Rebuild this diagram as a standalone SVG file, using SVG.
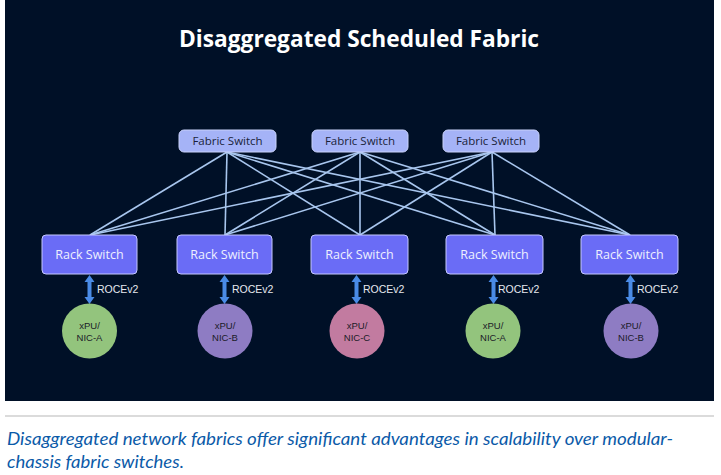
<svg xmlns="http://www.w3.org/2000/svg" width="721" height="475" viewBox="0 0 721 475">
<defs>
<style>
.fab rect{fill:#a5b3f7;stroke:#c9d2fb;stroke-width:1}
.fab text{font-family:"Open Sans","Liberation Sans",sans-serif;font-size:11.5px;fill:#1a1f3a;text-anchor:middle}
.rack rect{fill:#6a6cf6;stroke:#c5c8ff;stroke-width:1}
.rack text{font-family:"Open Sans","Liberation Sans",sans-serif;font-size:12.5px;fill:#eef0ff;text-anchor:middle}
.nic text{font-family:"Liberation Sans","Open Sans",sans-serif;font-size:9.5px;fill:#1b1b28;text-anchor:middle}
.lbl{font-family:"Liberation Sans","Open Sans",sans-serif;font-size:10.5px;fill:#e6e8ef}
#connectors line.l{stroke:#a8c6ee;stroke-width:1.6}
.arr{fill:#4a8be6}
</style>
<path id="barrow" d="M0,0 L5,7 L2,7 L2,22 L5,22 L0,29 L-5,22 L-2,22 L-2,7 L-5,7 z"/>
</defs>
<rect x="5" y="0" width="709" height="401" fill="#001027"/>
<line x1="5" y1="416" x2="714" y2="416" stroke="#cfcfcf" stroke-width="1.5"/>
<text x="359" y="47" font-family="Open Sans, Liberation Sans, sans-serif" font-size="23" font-weight="bold" fill="#ffffff" text-anchor="middle" textLength="360" lengthAdjust="spacingAndGlyphs">Disaggregated Scheduled Fabric</text>
<g font-family="Lato, Open Sans, Liberation Sans, sans-serif" font-size="17" font-style="italic" fill="#0b5aa8">
<text x="7" y="445" textLength="666" lengthAdjust="spacingAndGlyphs">Disaggregated network fabrics offer significant advantages in scalability over modular-</text>
<text x="7" y="468" textLength="177" lengthAdjust="spacingAndGlyphs">chassis fabric switches.</text>
</g>
<g id="connectors">
<line class="l" x1="227" y1="152" x2="90" y2="235"/>
<line class="l" x1="227" y1="152" x2="225" y2="235"/>
<line class="l" x1="227" y1="152" x2="360" y2="235"/>
<line class="l" x1="227" y1="152" x2="495" y2="235"/>
<line class="l" x1="227" y1="152" x2="630" y2="235"/>
<line class="l" x1="360" y1="152" x2="90" y2="235"/>
<line class="l" x1="360" y1="152" x2="225" y2="235"/>
<line class="l" x1="360" y1="152" x2="360" y2="235"/>
<line class="l" x1="360" y1="152" x2="495" y2="235"/>
<line class="l" x1="360" y1="152" x2="630" y2="235"/>
<line class="l" x1="492" y1="152" x2="90" y2="235"/>
<line class="l" x1="492" y1="152" x2="225" y2="235"/>
<line class="l" x1="492" y1="152" x2="360" y2="235"/>
<line class="l" x1="492" y1="152" x2="495" y2="235"/>
<line class="l" x1="492" y1="152" x2="630" y2="235"/>
<use href="#barrow" class="arr" x="89.5" y="275"/>
<use href="#barrow" class="arr" x="224.5" y="275"/>
<use href="#barrow" class="arr" x="356.5" y="275"/>
<use href="#barrow" class="arr" x="493.5" y="275"/>
<use href="#barrow" class="arr" x="630.5" y="275"/>
<text class="lbl" x="97" y="293">ROCEv2</text>
<text class="lbl" x="232" y="293">ROCEv2</text>
<text class="lbl" x="363" y="293">ROCEv2</text>
<text class="lbl" x="498" y="293">ROCEv2</text>
<text class="lbl" x="637" y="293">ROCEv2</text>
</g>
<g id="fabric1" class="fab"><rect x="179" y="130" width="97" height="22" rx="5"/><text x="227.5" y="145">Fabric Switch</text></g>
<g id="fabric2" class="fab"><rect x="312" y="130" width="96" height="22" rx="5"/><text x="360" y="145">Fabric Switch</text></g>
<g id="fabric3" class="fab"><rect x="443" y="130" width="96" height="22" rx="5"/><text x="491" y="145">Fabric Switch</text></g>
<g id="rack1" class="rack"><rect x="42" y="235" width="95" height="39" rx="4"/><text x="89.5" y="258.5">Rack Switch</text></g>
<g id="rack2" class="rack"><rect x="177" y="235" width="95" height="39" rx="4"/><text x="224.5" y="258.5">Rack Switch</text></g>
<g id="rack3" class="rack"><rect x="311" y="235" width="97" height="39" rx="4"/><text x="359.5" y="258.5">Rack Switch</text></g>
<g id="rack4" class="rack"><rect x="446" y="235" width="97" height="39" rx="4"/><text x="494.5" y="258.5">Rack Switch</text></g>
<g id="rack5" class="rack"><rect x="581" y="235" width="97" height="39" rx="4"/><text x="629.5" y="258.5">Rack Switch</text></g>
<g id="nic1" class="nic"><circle cx="89.5" cy="331" r="27.5" fill="#93c47d"/><text x="89.5" y="329">xPU/</text><text x="89.5" y="341">NIC-A</text></g>
<g id="nic2" class="nic"><circle cx="225" cy="331" r="27.5" fill="#8e7cc3"/><text x="225" y="329">xPU/</text><text x="225" y="341">NIC-B</text></g>
<g id="nic3" class="nic"><circle cx="357" cy="331" r="27.5" fill="#c27ba0"/><text x="357" y="329">xPU/</text><text x="357" y="341">NIC-C</text></g>
<g id="nic4" class="nic"><circle cx="493" cy="331" r="27.5" fill="#93c47d"/><text x="493" y="329">xPU/</text><text x="493" y="341">NIC-A</text></g>
<g id="nic5" class="nic"><circle cx="631" cy="331" r="27.5" fill="#8e7cc3"/><text x="631" y="329">xPU/</text><text x="631" y="341">NIC-B</text></g>
</svg>
